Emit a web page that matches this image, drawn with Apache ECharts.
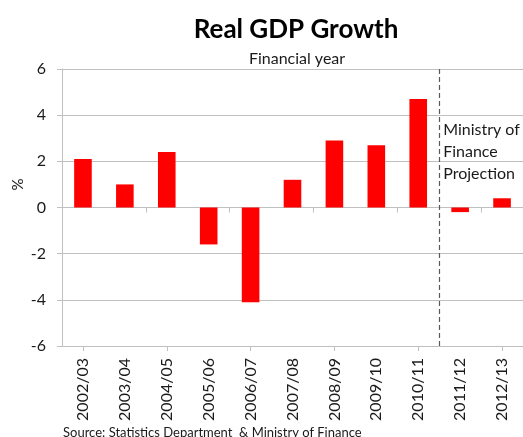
<!DOCTYPE html>
<html>
<head>
<meta charset="utf-8">
<script src="https://cdn.jsdelivr.net/npm/echarts@6/dist/echarts.min.js"></script>
<style>
  html, body { margin: 0; padding: 0; background: #fff; }
  #chart { width: 523px; height: 437px; }
</style>
</head>
<body>
<div id="chart"></div>
<script>
// Real GDP growth by financial year (%)
const years = ['2002/03', '2003/04', '2004/05', '2005/06', '2006/07', '2007/08',
               '2008/09', '2009/10', '2010/11', '2011/12', '2012/13'];
const growth = [2.1, 1.0, 2.4, -1.6, -4.1, 1.2, 2.9, 2.7, 4.7, -0.2, 0.4];
// Projection period starts after this many actual years
const actualYears = 9;
const projectionLabel = 'Ministry of\nFinance\nProjection';
const unitLabel = '%';

const FONT = 'Lato, "Open Sans", sans-serif';
const TEXT = '#1a1a1a';
const GRID_COLOR = '#c0c0c0';

const chart = echarts.init(document.getElementById('chart'));

chart.setOption({
  animation: false,
  textStyle: { fontFamily: FONT },
  title: [
    {
      text: 'Real GDP Growth',
      left: 291, top: 12, textAlign: 'center',
      textStyle: { fontSize: 26, fontWeight: 'bold', color: '#000', fontFamily: FONT }
    },
    {
      text: 'Financial year',
      left: 292, top: 46, textAlign: 'center',
      textStyle: { fontSize: 16, fontWeight: 'normal', color: TEXT, fontFamily: FONT }
    },
    {
      text: 'Source: Statistics Department  & Ministry of Finance',
      left: 58, top: 421,
      textStyle: { fontSize: 13, fontWeight: 'normal', color: TEXT, fontFamily: FONT }
    }
  ],
  grid: { left: 62, right: 0, top: 69, bottom: 91, containLabel: false, outerBoundsMode: 'none' },
  xAxis: [
    {
      // labels along the bottom edge
      type: 'category', data: years, position: 'bottom',
      axisLine: { onZero: false, lineStyle: { color: GRID_COLOR } },
      axisTick: { show: false },
      axisLabel: { rotate: 90, fontSize: 16, color: TEXT, margin: 12, fontFamily: FONT }
    },
    {
      // zero line with ticks between categories
      type: 'category', data: years, position: 'bottom',
      axisLine: { onZero: true, lineStyle: { color: GRID_COLOR } },
      axisTick: { show: true, length: 5, lineStyle: { color: GRID_COLOR } },
      axisLabel: { show: false }
    },
    {
      // ticks at category centres
      type: 'category', data: years, position: 'bottom',
      axisLine: { onZero: true, show: false },
      axisTick: { show: true, alignWithLabel: true, length: 5, lineStyle: { color: GRID_COLOR } },
      axisLabel: { show: false }
    },
    {
      // continuous scale for the projection divider
      type: 'value', min: 0, max: years.length, show: false
    }
  ],
  yAxis: {
    type: 'value', min: -6, max: 6, interval: 2,
    axisLine: { show: true, lineStyle: { color: GRID_COLOR } },
    axisTick: { show: true, length: 5, lineStyle: { color: GRID_COLOR } },
    axisLabel: { fontSize: 16, color: TEXT, margin: 16, fontFamily: FONT },
    splitLine: { lineStyle: { color: GRID_COLOR, width: 1 } }
  },
  series: [
    {
      type: 'bar', data: growth, xAxisIndex: 0,
      barCategoryGap: '58%',
      itemStyle: { color: '#ff0000' }
    },
    {
      type: 'line', data: [], xAxisIndex: 3,
      markLine: {
        symbol: 'none', silent: true,
        lineStyle: { color: '#595959', type: [5, 3], width: 1.2 },
        label: { show: false },
        data: [{ xAxis: actualYears }]
      }
    }
  ]
});

// Annotation beside the divider and the unit label, anchored through the axis scales
const anchor = chart.convertToPixel({ xAxisIndex: 3, yAxisIndex: 0 }, [actualYears, 3.5]);
const unitY = chart.convertToPixel({ yAxisIndex: 0 }, 1);
chart.setOption({
  graphic: [
    {
      type: 'text', left: anchor[0] + 4, top: anchor[1] - 8,
      style: {
        text: projectionLabel, fontSize: 16, lineHeight: 22,
        fill: TEXT, fontFamily: FONT
      }
    },
    {
      type: 'text', x: 18, y: unitY, rotation: Math.PI / 2,
      style: {
        text: unitLabel, fontSize: 15, fill: TEXT, fontFamily: FONT,
        align: 'center', verticalAlign: 'middle'
      }
    }
  ]
});
</script>
</body>
</html>
